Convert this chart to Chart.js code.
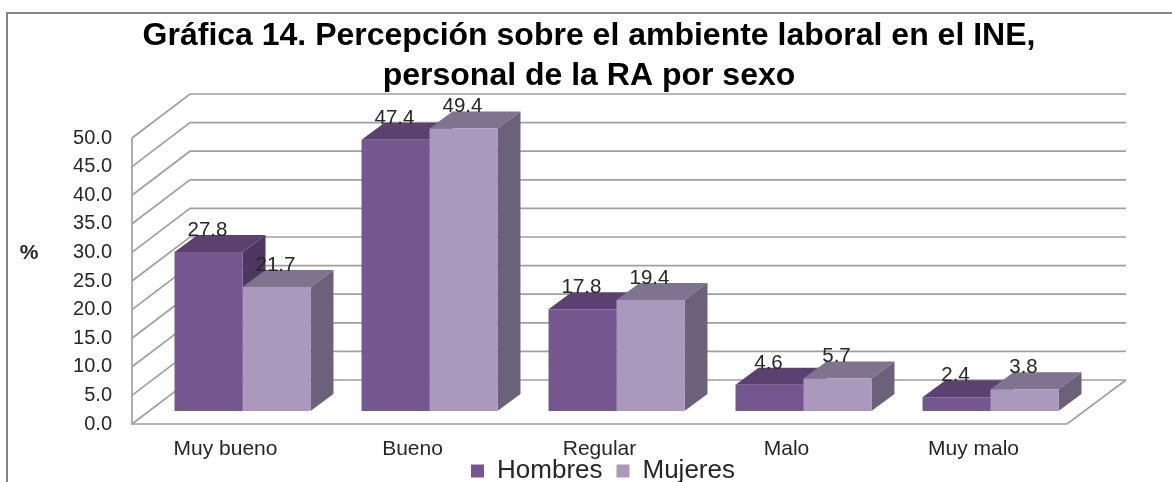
<!DOCTYPE html>
<html>
<head>
<meta charset="utf-8">
<style>
html,body{margin:0;padding:0;background:#fff;overflow:hidden}
#wrap{width:1172px;height:482px;position:relative}
canvas{filter:blur(0.4px)}
</style>
<script src="https://cdn.jsdelivr.net/npm/chart.js@4"></script>
</head>
<body>
<div id="wrap"><canvas id="c" width="1172" height="482"></canvas></div>
<script>
const titleLines = ["Gráfica 14. Percepción sobre el ambiente laboral en el INE,", "personal de la RA por sexo"];
const categories = ["Muy bueno", "Bueno", "Regular", "Malo", "Muy malo"];
const hombres = [27.8, 47.4, 17.8, 4.6, 2.4];
const mujeres = [21.7, 49.4, 19.4, 5.7, 3.8];
const yTicks = [0, 5, 10, 15, 20, 25, 30, 35, 40, 45, 50];
const yUnit = "%";

const FONT = "'Liberation Sans', Arial, sans-serif";
const TEXT = "#262626", GRID = "#a0a0a0";
const WALL = {dx: 58, dy: 44};
const BAR = {shiftX: 17, shiftY: 13, dx: 23, dy: 17};
const FACES = [
  {front: "#73578e", top: "#5a4170", side: "#4c3861"},
  {front: "#aa99bd", top: "#80738f", side: "#6b627a"}
];

function face(ctx, pts, color) {
  ctx.fillStyle = color;
  ctx.beginPath();
  pts.forEach((p, i) => i ? ctx.lineTo(p[0], p[1]) : ctx.moveTo(p[0], p[1]));
  ctx.closePath();
  ctx.fill();
}
function line(ctx, x1, y1, x2, y2) {
  ctx.beginPath(); ctx.moveTo(x1, y1); ctx.lineTo(x2, y2); ctx.stroke();
}

const scene3d = {
  id: "scene3d",
  afterLayout(chart) {
    chart.titleBlock.left = 6; chart.titleBlock.right = 1172;
    chart.legend.left = 34; chart.legend.right = 1172;
    chart.scales.x.bottom = 470;
  },
  beforeDraw(chart) {
    const ctx = chart.ctx, {left, right, bottom} = chart.chartArea, y = chart.scales.y;
    ctx.save();
    ctx.strokeStyle = "#868686"; ctx.lineWidth = 2;
    ctx.beginPath(); ctx.moveTo(7, 482); ctx.lineTo(7, 13); ctx.lineTo(1172, 13); ctx.stroke();
    ctx.strokeStyle = GRID; ctx.lineWidth = 1.7;
    const backR = right + WALL.dx + 1;
    yTicks.forEach(v => {
      const py = y.getPixelForValue(v);
      ctx.beginPath();
      ctx.moveTo(left, py); ctx.lineTo(left + WALL.dx, py - WALL.dy); ctx.lineTo(backR, py - WALL.dy);
      ctx.stroke();
    });
    line(ctx, left, y.getPixelForValue(yTicks[yTicks.length - 1]), left, bottom);
    ctx.beginPath();
    ctx.moveTo(left - 1, bottom); ctx.lineTo(right, bottom); ctx.lineTo(backR, bottom - WALL.dy);
    ctx.stroke();
    ctx.fillStyle = TEXT;
    ctx.font = "bold 21px " + FONT;
    ctx.textAlign = "center"; ctx.textBaseline = "middle";
    ctx.fillText(yUnit, 29, 253);
    ctx.restore();
  },
  beforeDatasetsDraw(chart) {
    const ctx = chart.ctx;
    ctx.save();
    ctx.translate(BAR.shiftX, -BAR.shiftY);
    categories.forEach((_, j) => {
      [0, 1].forEach(d => {
        const b = chart.getDatasetMeta(d).data[j];
        const l = b.x - b.width / 2, r = b.x + b.width / 2, t = b.y, bt = b.base;
        face(ctx, [[l, t], [l + BAR.dx, t - BAR.dy], [r + BAR.dx, t - BAR.dy], [r, t]], FACES[d].top);
        face(ctx, [[r, t], [r + BAR.dx, t - BAR.dy], [r + BAR.dx, bt - BAR.dy], [r, bt]], FACES[d].side);
      });
    });
  },
  afterDatasetsDraw(chart) {
    const ctx = chart.ctx;
    ctx.restore();
    ctx.save();
    ctx.fillStyle = TEXT;
    ctx.font = "20.5px " + FONT;
    ctx.textAlign = "center"; ctx.textBaseline = "alphabetic";
    [hombres, mujeres].forEach((vals, d) => {
      chart.getDatasetMeta(d).data.forEach((b, j) => {
        ctx.fillText(vals[j].toFixed(1), b.x + BAR.shiftX - 1, b.y - BAR.shiftY - 16);
      });
    });
    ctx.restore();
  }
};

new Chart(document.getElementById("c"), {
  type: "bar",
  plugins: [scene3d],
  data: {
    labels: categories,
    datasets: [
      {label: "Hombres", data: hombres, backgroundColor: FACES[0].front, clip: false, order: 0},
      {label: "Mujeres", data: mujeres, backgroundColor: FACES[1].front, clip: false, order: 1}
    ]
  },
  options: {
    responsive: false,
    animation: false,
    devicePixelRatio: 1,
    datasets: {bar: {categoryPercentage: 0.727, barPercentage: 1, borderWidth: 0}},
    layout: {padding: {left: 0, right: 105, top: 0, bottom: -12}},
    plugins: {
      tooltip: {enabled: false},
      title: {
        display: true,
        text: titleLines,
        color: "#000000",
        font: {family: FONT, size: 32, weight: "bold", lineHeight: 40 / 32},
        padding: {top: 16, bottom: 4}
      },
      legend: {
        position: "bottom",
        labels: {
          color: TEXT,
          font: {family: FONT, size: 26},
          boxWidth: 13, boxHeight: 13, padding: 14
        }
      }
    },
    scales: {
      x: {
        grid: {display: false},
        border: {display: false},
        afterFit(s) { s.height = 20; },
        ticks: {color: TEXT, font: {family: FONT, size: 21}, padding: 5, maxRotation: 0, autoSkip: false}
      },
      y: {
        min: 0,
        max: 324 / 5.72,
        grid: {display: false},
        border: {display: false},
        afterFit(s) { s.width = 132; },
        afterBuildTicks(s) { s.ticks = yTicks.map(v => ({value: v})); },
        ticks: {color: TEXT, font: {family: FONT, size: 20}, padding: 12, callback: v => v.toFixed(1)}
      }
    }
  }
});
</script>
</body>
</html>
